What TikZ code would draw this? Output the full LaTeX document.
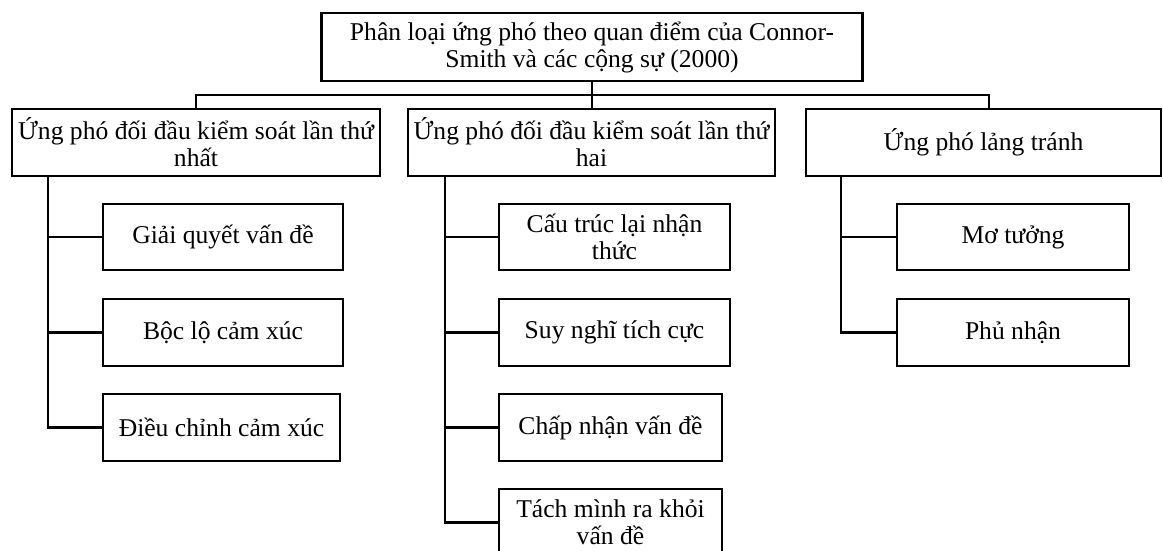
\documentclass[tikz,border=0pt]{standalone}
\usepackage{fontspec}
\setmainfont{Liberation Serif}
\begin{document}
\begin{tikzpicture}[x=0.5pt,y=-0.5pt,
  box/.style={draw=black, line width=1.2pt, rectangle, inner sep=0pt, align=center,
    font=\fontsize{12.8}{13.5}\selectfont},
  link/.style={draw=black, line width=1.1pt}]
\useasboundingbox (0,0) rectangle (1163,551);
\fill[white] (0,0) rectangle (1163,551);

% root
\node[box, minimum width=270.5pt, minimum height=34pt] (top) at (592,47)
  {Phân loại ứng phó theo quan điểm của Connor-\\Smith và các cộng sự (2000)};

% level 1
\node[box, minimum width=184pt, minimum height=33.5pt] (b1) at (196,142.5)
  {Ứng phó đối đầu kiểm soát lần thứ\\nhất};
\node[box, minimum width=183.5pt, minimum height=33.5pt] (b2) at (591.5,142.5)
  {Ứng phó đối đầu kiểm soát lần thứ\\hai};
\node[box, minimum width=177.5pt, minimum height=33.5pt] (b3) at (983.5,142.5)
  {Ứng phó lảng tránh};

% column 1
\node[box, minimum width=120pt, minimum height=33pt] (c11) at (223,237) {Giải quyết vấn đề};
\node[box, minimum width=120pt, minimum height=33.5pt] (c12) at (223,332.5) {Bộc lộ cảm xúc};
\node[box, minimum width=118.5pt, minimum height=33.5pt] (c13) at (221.5,427.5) {Điều chỉnh cảm xúc};

% column 2
\node[box, minimum width=115.5pt, minimum height=33pt] (c21) at (614.5,237) {Cấu trúc lại nhận\\thức};
\node[box, minimum width=115.5pt, minimum height=33.5pt] (c22) at (614.5,332.5) {Suy nghĩ tích cực};
\node[box, minimum width=111.5pt, minimum height=33.5pt] (c23) at (610.5,427.5) {Chấp nhận vấn đề};
\node[box, minimum width=111.5pt, minimum height=33.5pt] (c24) at (610.5,522.5) {Tách mình ra khỏi\\vấn đề};

% column 3
\node[box, minimum width=116pt, minimum height=33pt] (c31) at (1013,237) {Mơ tưởng};
\node[box, minimum width=116pt, minimum height=33.5pt] (c32) at (1013,332.5) {Phủ nhận};

% connectors root -> level 1
\coordinate (bus) at (592,95);
\draw[link] (top.south) -- (top.south |- b2.north);
\draw[link] (b1.north) |- (bus) -| ([xshift=2.75pt]b3.north);

% connectors level 1 -> children
\coordinate (t1) at (48,176);
\coordinate (t2) at (445,176);
\coordinate (t3) at (841,176);
\draw[link] (t1) |- (c11.west);
\draw[link] (t1) |- (c12.west);
\draw[link] (t1) |- (c13.west);
\draw[link] (t2) |- (c21.west);
\draw[link] (t2) |- (c22.west);
\draw[link] (t2) |- (c23.west);
\draw[link] (t2) |- (c24.west);
\draw[link] (t3) |- (c31.west);
\draw[link] (t3) |- (c32.west);
\end{tikzpicture}
\end{document}
